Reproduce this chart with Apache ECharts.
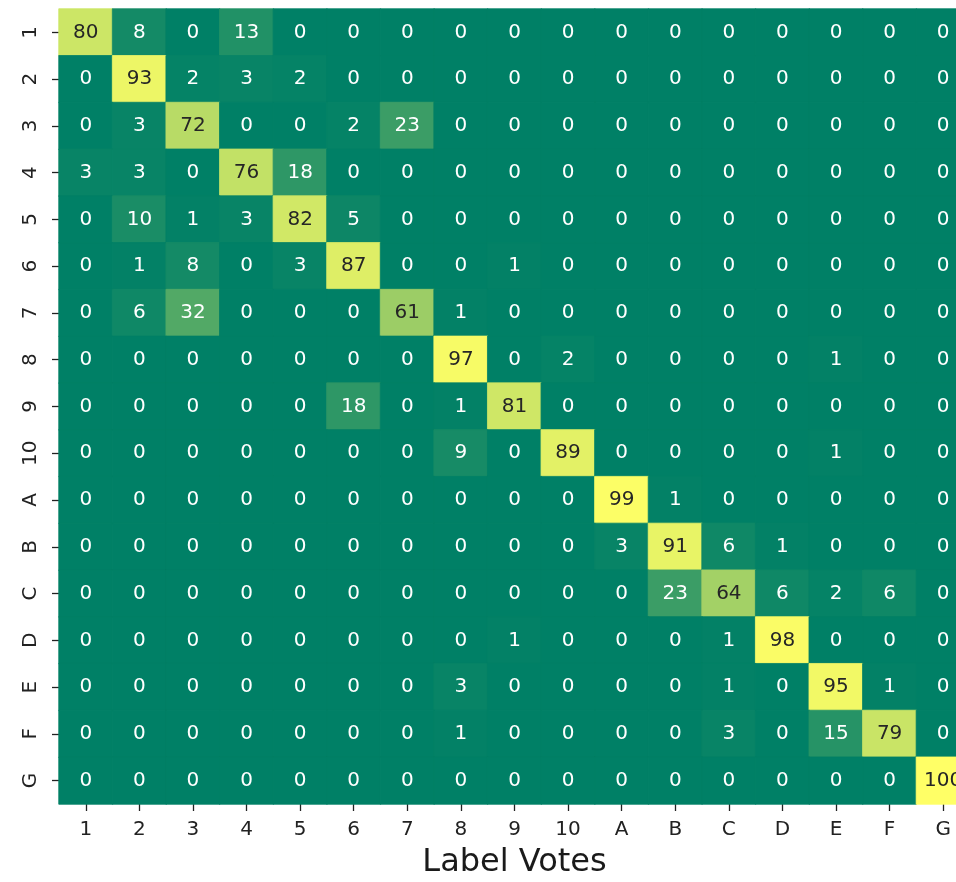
<!DOCTYPE html>
<html>
<head>
<meta charset="utf-8">
<script src="https://cdn.jsdelivr.net/npm/echarts@6/dist/echarts.min.js"></script>
<style>
  html, body { margin: 0; padding: 0; background: #fff; }
  #chart { width: 956px; height: 882px; }
</style>
</head>
<body>
<div id="chart"></div>
<script>
// predicted labels (columns) and true labels (rows)
const voteLabels = ['1', '2', '3', '4', '5', '6', '7', '8', '9', '10', 'A', 'B', 'C', 'D', 'E', 'F', 'G'];
const trueLabels = ['1', '2', '3', '4', '5', '6', '7', '8', '9', '10', 'A', 'B', 'C', 'D', 'E', 'F', 'G'];

const row1 = [80, 8, 0, 13, 0, 0, 0, 0, 0, 0, 0, 0, 0, 0, 0, 0, 0];
const row2 = [0, 93, 2, 3, 2, 0, 0, 0, 0, 0, 0, 0, 0, 0, 0, 0, 0];
const row3 = [0, 3, 72, 0, 0, 2, 23, 0, 0, 0, 0, 0, 0, 0, 0, 0, 0];
const row4 = [3, 3, 0, 76, 18, 0, 0, 0, 0, 0, 0, 0, 0, 0, 0, 0, 0];
const row5 = [0, 10, 1, 3, 82, 5, 0, 0, 0, 0, 0, 0, 0, 0, 0, 0, 0];
const row6 = [0, 1, 8, 0, 3, 87, 0, 0, 1, 0, 0, 0, 0, 0, 0, 0, 0];
const row7 = [0, 6, 32, 0, 0, 0, 61, 1, 0, 0, 0, 0, 0, 0, 0, 0, 0];
const row8 = [0, 0, 0, 0, 0, 0, 0, 97, 0, 2, 0, 0, 0, 0, 1, 0, 0];
const row9 = [0, 0, 0, 0, 0, 18, 0, 1, 81, 0, 0, 0, 0, 0, 0, 0, 0];
const row10 = [0, 0, 0, 0, 0, 0, 0, 9, 0, 89, 0, 0, 0, 0, 1, 0, 0];
const rowA = [0, 0, 0, 0, 0, 0, 0, 0, 0, 0, 99, 1, 0, 0, 0, 0, 0];
const rowB = [0, 0, 0, 0, 0, 0, 0, 0, 0, 0, 3, 91, 6, 1, 0, 0, 0];
const rowC = [0, 0, 0, 0, 0, 0, 0, 0, 0, 0, 0, 23, 64, 6, 2, 6, 0];
const rowD = [0, 0, 0, 0, 0, 0, 0, 0, 1, 0, 0, 0, 1, 98, 0, 0, 0];
const rowE = [0, 0, 0, 0, 0, 0, 0, 3, 0, 0, 0, 0, 1, 0, 95, 1, 0];
const rowF = [0, 0, 0, 0, 0, 0, 0, 1, 0, 0, 0, 0, 3, 0, 15, 79, 0];
const rowG = [0, 0, 0, 0, 0, 0, 0, 0, 0, 0, 0, 0, 0, 0, 0, 0, 100];

const rows = [row1, row2, row3, row4, row5, row6, row7, row8, row9, row10,
              rowA, rowB, rowC, rowD, rowE, rowF, rowG];

const font = 'DejaVu Sans';
const summer = ['#008066', '#ffff66'];

// seaborn picks dark text on light cells; border in cell colour hides seams
const cells = [];
rows.forEach((r, yi) => {
  r.forEach((v, xi) => {
    cells.push({
      value: [xi, yi, v],
      itemStyle: { borderWidth: 0.8, borderColor: echarts.color.lerp(v / 100, summer) },
      label: { color: v > 47 ? '#262626' : '#ffffff' }
    });
  });
});

const chart = echarts.init(document.getElementById('chart'), null, { renderer: 'canvas' });

const option = {
  animation: false,
  backgroundColor: '#ffffff',
  grid: { left: 59, top: 9, width: 911, height: 795, containLabel: false, outerBoundsMode: 'none' },
  xAxis: {
    type: 'category',
    data: voteLabels,
    name: 'Label Votes',
    nameLocation: 'middle',
    nameGap: 43,
    nameTextStyle: { fontFamily: font, fontSize: 32, color: '#1a1a1a' },
    axisLine: { show: false },
    axisTick: { show: true, alignWithLabel: true, length: 7, lineStyle: { color: '#222', width: 1.3 } },
    axisLabel: { fontFamily: font, fontSize: 20, color: '#222', margin: 16 },
    splitArea: { show: false }
  },
  yAxis: {
    type: 'category',
    data: trueLabels,
    inverse: true,
    axisLine: { show: false },
    axisTick: { show: true, alignWithLabel: true, length: 7, lineStyle: { color: '#222', width: 1.3 } },
    axisLabel: { fontFamily: font, fontSize: 20, color: '#222', rotate: 90, margin: 18 }
  },
  visualMap: {
    show: false,
    min: 0,
    max: 100,
    dimension: 2,
    inRange: { color: summer }
  },
  series: [{
    type: 'heatmap',
    data: cells,
    label: {
      show: true,
      fontFamily: font,
      fontSize: 20,
      formatter: p => p.value[2]
    },
    emphasis: { disabled: true }
  }]
};

chart.setOption(option);
</script>
</body>
</html>
